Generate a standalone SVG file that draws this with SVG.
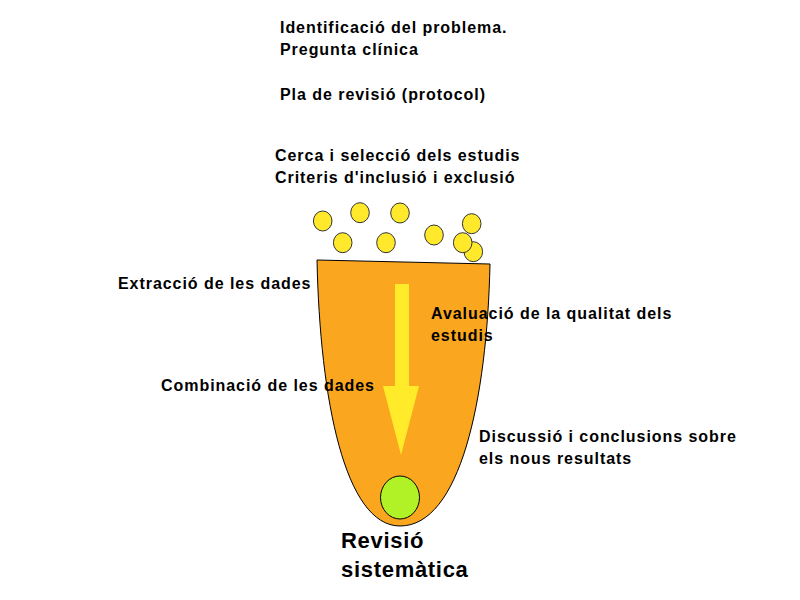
<svg xmlns="http://www.w3.org/2000/svg" width="800" height="600" viewBox="0 0 800 600">
<style>
text{font-family:"Liberation Sans",Arial,sans-serif;font-weight:bold;font-size:16px;letter-spacing:0.95px;fill:#000}
.big{font-size:22px;letter-spacing:0.7px}
.dot{fill:#FFE92A;stroke:#333;stroke-width:1}
</style>
<rect width="800" height="600" fill="#fff"/>
<g id="cup">
<path d="M317,260 L490,264 C487,400 460,526 400,526 C345,526 320,400 317,260 Z" fill="#FAA61F" stroke="#000" stroke-width="1"/>
</g>
<g id="arrow">
<path d="M395,284 L409,284 L409,386 L419,386 L401,455 L383,386 L395,386 Z" fill="#FFEB2A"/>
</g>
<g id="result">
<ellipse cx="400" cy="497.5" rx="19.5" ry="21.5" fill="#B0F225" stroke="#000" stroke-width="1"/>
</g>
<g id="studies">
<ellipse class="dot" cx="322.7" cy="221" rx="9.3" ry="10"/>
<ellipse class="dot" cx="360" cy="212.7" rx="9.3" ry="10"/>
<ellipse class="dot" cx="400" cy="213" rx="9.3" ry="10"/>
<ellipse class="dot" cx="342.7" cy="242.7" rx="9.3" ry="10"/>
<ellipse class="dot" cx="386" cy="242.7" rx="9.3" ry="10"/>
<ellipse class="dot" cx="434" cy="235" rx="9.3" ry="10"/>
<ellipse class="dot" cx="471.7" cy="223.7" rx="9.3" ry="10"/>
<ellipse class="dot" cx="473.3" cy="251.7" rx="9.3" ry="10"/>
<ellipse class="dot" cx="462.7" cy="242.7" rx="9.3" ry="10"/>
</g>
<g id="labels">
<text x="280" y="33">Identificació del problema.</text>
<text x="280" y="55">Pregunta clínica</text>
<text x="280" y="100">Pla de revisió (protocol)</text>
<text x="275" y="161">Cerca i selecció dels estudis</text>
<text x="275" y="183">Criteris d'inclusió i exclusió</text>
<text x="118" y="289">Extracció de les dades</text>
<text x="431" y="319">Avaluació de la qualitat dels</text>
<text x="431" y="341">estudis</text>
<text x="161" y="391">Combinació de les dades</text>
<text x="479" y="442">Discussió i conclusions sobre</text>
<text x="479" y="464">els nous resultats</text>
<text class="big" x="341" y="548">Revisió</text>
<text class="big" x="341" y="577">sistemàtica</text>
</g>
</svg>
